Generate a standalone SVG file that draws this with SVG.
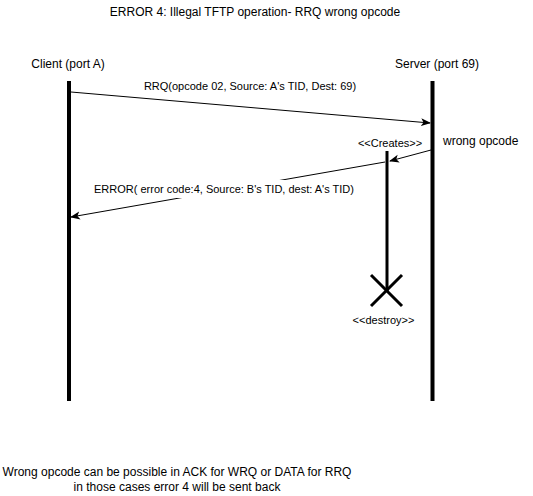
<svg xmlns="http://www.w3.org/2000/svg" width="533" height="496" viewBox="0 0 533 496">
<style>
text{font-family:"Liberation Sans",Arial,sans-serif;fill:#000}
.t12{font-size:12px}
.t11{font-size:11px}
.life{stroke:#000;stroke-width:4;fill:none}
.msg{stroke:#000;stroke-width:1;fill:none}
</style>
<defs>
<marker id="arr" markerWidth="10" markerHeight="10" refX="9" refY="5" orient="auto" markerUnits="userSpaceOnUse">
<path d="M0,1 L10,5 L0,9 L2.5,5 Z" fill="#000"/>
</marker>
</defs>
<rect width="533" height="496" fill="#fff"/>
<text class="t12" x="255" y="16" text-anchor="middle">ERROR 4: Illegal TFTP operation- RRQ wrong opcode</text>
<g id="client">
<text class="t12" x="68" y="68" text-anchor="middle">Client (port A)</text>
<line class="life" x1="69" y1="81" x2="69" y2="401"/>
</g>
<g id="server">
<text class="t12" x="437" y="68" text-anchor="middle">Server (port 69)</text>
<line class="life" x1="432.5" y1="81" x2="432.5" y2="401"/>
</g>
<g id="handler">
<text class="t11" x="390" y="147" text-anchor="middle">&lt;&lt;Creates&gt;&gt;</text>
<line x1="387" y1="151" x2="387" y2="291" stroke="#000" stroke-width="3"/>
<line x1="371" y1="275" x2="402" y2="306" stroke="#000" stroke-width="3"/>
<line x1="402" y1="275" x2="371" y2="306" stroke="#000" stroke-width="3"/>
<text class="t11" x="383.5" y="324" text-anchor="middle">&lt;&lt;destroy&gt;&gt;</text>
</g>
<g id="connectors">
<line class="msg" x1="71" y1="92" x2="430" y2="123" marker-end="url(#arr)"/>
<text class="t11" x="250" y="90" text-anchor="middle">RRQ(opcode 02, Source: A's TID, Dest: 69)</text>
<line class="msg" x1="431" y1="150" x2="390" y2="161" marker-end="url(#arr)"/>
<text class="t12" x="443" y="145">wrong opcode</text>
<line class="msg" x1="385" y1="162" x2="71" y2="217" marker-end="url(#arr)"/>
<rect x="92" y="180" width="264" height="18" fill="#fff"/>
<text class="t11" x="224" y="193" text-anchor="middle">ERROR( error code:4, Source: B's TID, dest: A's TID)</text>
</g>
<text class="t12" x="177" y="476" text-anchor="middle">Wrong opcode can be possible in ACK for WRQ or DATA for RRQ</text>
<text class="t12" x="177" y="491" text-anchor="middle">in those cases error 4 will be sent back</text>
</svg>
